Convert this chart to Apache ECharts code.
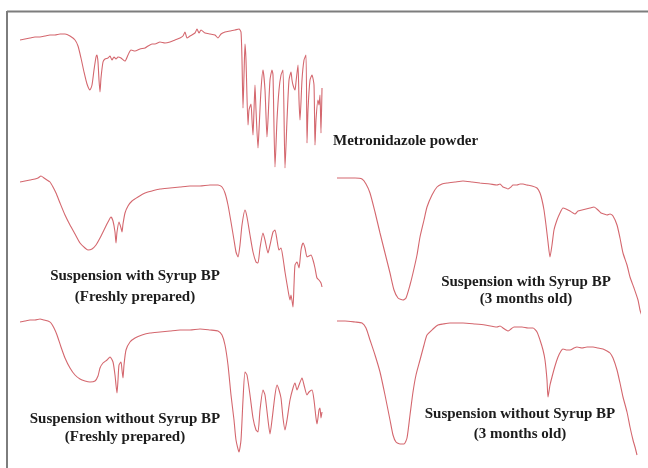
<!DOCTYPE html>
<html>
<head>
<meta charset="utf-8">
<script src="https://cdn.jsdelivr.net/npm/echarts@6/dist/echarts.min.js"></script>
<style>
html,body{margin:0;padding:0;background:#fff;}
#chart{width:648px;height:468px;}
</style>
</head>
<body>
<div id="chart"></div>
<script>
// Spectrum names (labels)
var labels = [
  ["Metronidazole powder"],
  ["Suspension with Syrup BP", "(Freshly prepared)"],
  ["Suspension with Syrup BP", "(3 months old)"],
  ["Suspension without Syrup BP", "(Freshly prepared)"],
  ["Suspension without Syrup BP", "(3 months old)"]
];

// 1) Metronidazole powder : wavenumber (cm-1) and relative transmittance
var wnPowder = [4000,3940,3880,3820,3760,3700,3640,3580,3520,3460,3400,3340,3304,3268,3232,3196,3160,3136,3112,3088,3076,3064,3052,3040,3028,3004,2980,2944,2920,2896,2872,2848,2824,2788,2740,2704,2668,2620,2560,2500,2464,2416,2380,2320,2260,2200,2140,2080,2044,2020,1996,1960,1900,1876,1852,1828,1780,1720,1660,1624,1588,1540,1480,1420,1372,1348,1336,1324,1312,1300,1288,1264,1252,1228,1216,1204,1192,1180,1168,1144,1132,1108,1084,1060,1036,1024,1000,976,964,940,916,892,868,844,820,796,772,748,736,724,700,688,664,652,640,616,592,568,556,544,520,496,472,460,448,424,412,400,388,376];
var tPowder = [130,131,132,133,133,134,135,135,136,136,134,130,124,112,98,86,80,85,100,113,115,108,90,78,92,108,111,112,114,110,113,111,113,112,109,115,120,119,121,122,124,126,126,128,127,128,130,132,134,138,132,134,137,141,137,140,137,136,135,132,136,138,139,140,141,138,110,62,95,126,110,45,60,66,50,35,60,85,60,22,40,80,100,80,33,50,90,100,95,3,50,80,95,100,2,50,90,98,90,85,80,88,105,70,50,90,110,115,27,60,90,95,85,25,50,70,65,75,37,82];

// 2) Suspension with Syrup BP, freshly prepared
var wnSyrupFresh = [4000,3940,3880,3820,3784,3748,3712,3676,3640,3604,3568,3520,3460,3400,3340,3280,3220,3184,3136,3088,3040,2992,2944,2908,2884,2860,2848,2836,2812,2788,2776,2764,2740,2704,2656,2584,2500,2416,2320,2200,2080,1960,1840,1720,1624,1576,1540,1504,1468,1432,1408,1384,1360,1336,1300,1276,1240,1204,1168,1144,1120,1084,1060,1024,1000,964,940,916,892,868,844,820,784,760,748,724,712,700,676,652,628,604,580,556,532,508,484,460,436,412,388,376];
var tSyrupFresh = [128,129,130,131,132,134,132,130,128,123,117,107,95,85,76,67,62,60,61,65,72,80,88,93,89,78,67,78,88,82,78,86,97,104,109,113,117,119,121,122,123,124,124,125,125,123,117,105,88,70,58,53,65,85,100,93,75,58,48,47,62,77,70,57,65,78,80,70,60,62,52,38,20,10,15,3,25,45,48,42,60,67,62,53,54,55,50,42,32,30,27,23];

// 3) Suspension with Syrup BP, 3 months old
var wnSyrupOld = [4000,3904,3784,3700,3652,3604,3544,3484,3424,3364,3316,3268,3208,3172,3124,3088,3040,3004,2956,2920,2860,2800,2740,2680,2584,2488,2380,2284,2164,2080,2044,2008,1972,1948,1912,1888,1840,1804,1768,1720,1660,1600,1564,1540,1516,1492,1468,1444,1420,1396,1360,1324,1288,1252,1204,1168,1144,1108,1060,1012,964,916,868,832,796,760,724,688,640,604,568,520,484,436,388,364,340];
var tSyrupOld = [140,140,140,139,134,125,106,85,65,45,28,20,18,20,33,45,63,81,98,111,123,131,134,135,136,137,136,135,134,133,134,131,130,129,131,133,133,134,134,133,132,130,125,118,108,93,76,61,73,88,98,105,110,109,107,105,104,107,108,109,110,111,108,105,104,103,104,102,93,80,65,53,41,30,18,8,2];

// 4) Suspension without Syrup BP, freshly prepared
var wnPlainFresh = [4000,3940,3880,3820,3760,3712,3664,3628,3592,3556,3508,3460,3400,3340,3280,3220,3160,3100,3064,3040,3004,2956,2920,2884,2860,2848,2836,2824,2812,2788,2776,2764,2752,2728,2680,2620,2536,2440,2320,2200,2080,1960,1840,1720,1624,1576,1540,1504,1468,1432,1408,1372,1348,1324,1300,1276,1240,1204,1168,1144,1120,1084,1060,1024,1000,976,940,916,892,868,844,820,796,760,724,700,676,652,616,592,556,532,496,472,448,436,412,400,388,376];
var tPlainFresh = [133,134,135,135,136,135,134,132,127,120,108,97,87,80,76,74,73,74,79,87,92,95,98,93,80,70,62,75,90,93,85,77,90,105,113,117,120,122,123,124,125,125,126,125,124,120,110,90,60,35,15,3,15,55,83,80,60,37,25,23,45,65,60,35,21,35,60,70,65,57,37,25,35,55,67,72,65,70,77,70,60,63,65,55,37,31,45,47,37,43];

// 5) Suspension without Syrup BP, 3 months old
var wnPlainOld = [4000,3904,3784,3700,3652,3604,3544,3484,3424,3364,3328,3292,3244,3196,3160,3124,3088,3052,3004,2956,2920,2848,2788,2728,2644,2488,2344,2224,2080,2044,2008,1972,1948,1912,1876,1840,1780,1708,1648,1600,1564,1528,1504,1480,1468,1444,1420,1384,1348,1312,1288,1240,1204,1156,1120,1060,1000,928,868,808,760,724,688,640,604,568,520,484,448,424,400];
var tPlainOld = [137,137,136,135,130,118,103,86,63,38,23,16,14,14,20,43,66,83,98,113,123,129,133,134,135,135,134,133,131,132,130,128,127,129,131,131,131,130,130,126,118,108,98,78,61,73,81,92,101,107,109,108,108,110,111,110,111,111,110,109,107,105,100,88,75,61,46,31,18,11,3];

var spectra = [
  [wnPowder, tPowder],
  [wnSyrupFresh, tSyrupFresh],
  [wnSyrupOld, tSyrupOld],
  [wnPlainFresh, tPlainFresh],
  [wnPlainOld, tPlainOld]
];

// panel layout (pixels)
var panels = [
  {left: 20, top: 30, width: 302, height: 140},
  {left: 20, top: 170, width: 302, height: 140},
  {left: 337, top: 178, width: 302, height: 140},
  {left: 20, top: 315, width: 302, height: 140},
  {left: 337, top: 318, width: 302, height: 140}
];

var labelPos = [
  {x: 333, y: [141], align: 'left'},
  {x: 135, y: [276, 297], align: 'center'},
  {x: 526, y: [282, 299], align: 'center'},
  {x: 125, y: [419, 437], align: 'center'},
  {x: 520, y: [414, 434], align: 'center'}
];

var grids = [], xAxes = [], yAxes = [], series = [];
for (var i = 0; i < spectra.length; i++) {
  grids.push({left: panels[i].left, top: panels[i].top, width: panels[i].width, height: panels[i].height});
  xAxes.push({type: 'value', gridIndex: i, min: 376, max: 4000, inverse: true, show: false});
  yAxes.push({type: 'value', gridIndex: i, min: 0, max: 140, show: false});
  var pts = [];
  for (var j = 0; j < spectra[i][0].length; j++) pts.push([spectra[i][0][j], spectra[i][1][j]]);
  series.push({
    type: 'line', xAxisIndex: i, yAxisIndex: i, data: pts,
    showSymbol: false, clip: false, smooth: 0.2,
    lineStyle: {color: '#d4676e', width: 1.1}
  });
}

var graphics = [
  {type: 'line', shape: {x1: 7, y1: 11.5, x2: 648, y2: 11.5}, style: {stroke: '#7d7d7d', lineWidth: 2}},
  {type: 'line', shape: {x1: 7, y1: 11, x2: 7, y2: 468}, style: {stroke: '#7d7d7d', lineWidth: 2}}
];
for (var k = 0; k < labels.length; k++) {
  for (var m = 0; m < labels[k].length; m++) {
    graphics.push({
      type: 'text', x: labelPos[k].x, y: labelPos[k].y[m],
      style: {text: labels[k][m], font: 'bold 15px "Liberation Serif"', fill: '#1c1c1c',
              textAlign: labelPos[k].align, textVerticalAlign: 'middle'}
    });
  }
}

var chart = echarts.init(document.getElementById('chart'), null, {renderer: 'canvas'});
chart.setOption({
  backgroundColor: '#ffffff',
  animation: false,
  grid: grids, xAxis: xAxes, yAxis: yAxes, series: series,
  graphic: graphics
});
</script>
</body>
</html>
